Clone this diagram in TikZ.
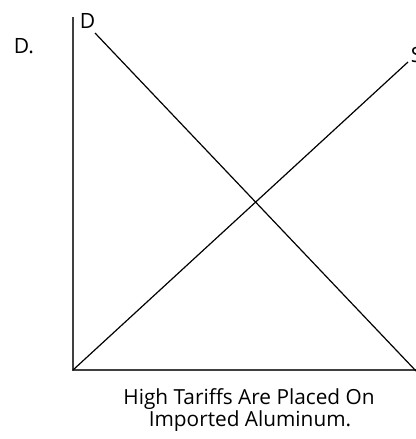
\documentclass[tikz,border=0pt]{standalone}
\usepackage{fontspec}
\setmainfont{Open Sans}
\begin{document}
\begin{tikzpicture}[x=0.75pt, y=-0.75pt, every node/.style={inner sep=0pt, font=\fontsize{15.8}{18}\selectfont}]
\useasboundingbox (0,0) rectangle (415,439);
\coordinate (O) at (73,370); \coordinate (ytop) at (73,17); \coordinate (xend) at (418,370);
\coordinate (D0) at (95,33); \coordinate (D1) at (416,371); \coordinate (S1) at (408,62);
% axes
\draw[line width=1.3pt, black!75] (ytop) -- (O) -- (xend);
% demand and supply
\draw[line width=0.9pt] (D0) -- (D1);
\draw[line width=0.9pt] (O) -- (S1);
\node[anchor=base west] (dlab) at (79.5,28.3) {D};
\node[anchor=base west] (slab) at (410.5,62) {S};
\node[anchor=base west] (part) at (13.5,53.3) {D.};
\node[anchor=base, font=\fontsize{15.6}{17}\selectfont] (cap1) at (249,404) {High Tariffs Are Placed On};
\node[anchor=base, font=\fontsize{15.6}{17}\selectfont] (cap2) at (250,426.7) {Imported Aluminum.};
\end{tikzpicture}
\end{document}
